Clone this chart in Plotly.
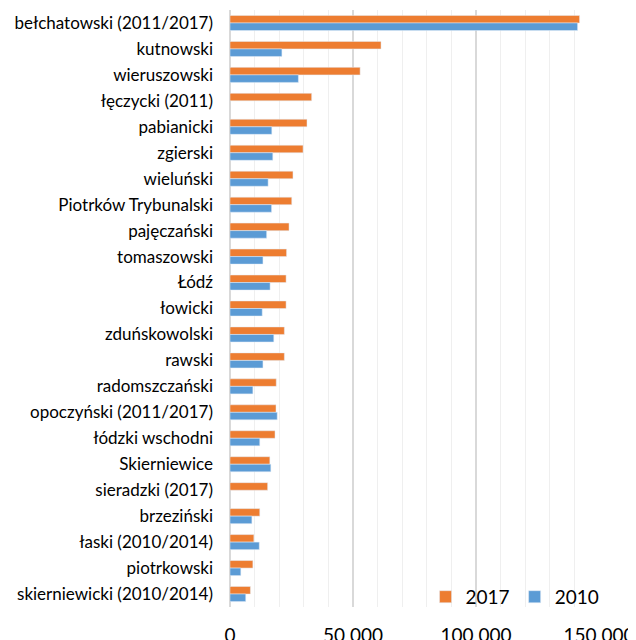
"""Bar chart: values by county, 2010 vs 2017"""
import plotly.graph_objects as go

# Categories, top to bottom
counties = [
    'bełchatowski (2011/2017)', 'kutnowski', 'wieruszowski', 'łęczycki (2011)',
    'pabianicki', 'zgierski', 'wieluński', 'Piotrków Trybunalski',
    'pajęczański', 'tomaszowski', 'Łódź', 'łowicki', 'zduńskowolski',
    'rawski', 'radomszczański', 'opoczyński (2011/2017)', 'łódzki wschodni',
    'Skierniewice', 'sieradzki (2017)', 'brzeziński', 'łaski (2010/2014)',
    'piotrkowski', 'skierniewicki (2010/2014)',
]

values_2017 = [
    142100, 61400, 52900, 33200, 31300, 29700, 25600, 25100, 24000, 23000,
    22800, 22800, 22100, 22100, 18800, 18700, 18300, 16200, 15300, 12100,
    9700, 9300, 8300,
]

values_2010 = [
    141300, 21100, 27800, None, 17000, 17400, 15500, 16900, 14900, 13400,
    16300, 13100, 17800, 13400, 9300, 19200, 12100, 16600, None, 8900,
    11900, 4400, 6400,
]

x_ticks = [0, 50000, 100000, 150000]

ORANGE = '#ED7D31'
BLUE = '#5B9BD5'
FONT = 'Lato'

fig = go.Figure()

# 2017 first so it sits above 2010 on the reversed category axis
fig.add_trace(go.Bar(
    y=counties, x=values_2017, orientation='h', name='2017',
    marker=dict(color=ORANGE)
))
fig.add_trace(go.Bar(
    y=counties, x=values_2010, orientation='h', name='2010',
    marker=dict(color=BLUE)
))

# page body adds an 8 px offset, margins account for it
fig.update_layout(
    width=636, height=640,
    margin=dict(l=222, r=45, t=2, b=41),
    plot_bgcolor='white', paper_bgcolor='white',
    barmode='group', bargap=0.42, bargroupgap=0,
    separators=', ',
    font=dict(family=FONT, color='#000000'),
    legend=dict(
        orientation='h', x=1.015, xanchor='right', y=0.017, yanchor='middle',
        font=dict(size=19), bgcolor='rgba(0,0,0,0)', itemwidth=30
    ),
    xaxis=dict(
        range=[0, 150000], tickvals=x_ticks, tickformat=',d',
        tickfont=dict(size=19), ticklabelstandoff=15, automargin=False,
        showgrid=True, gridcolor='#d9d9d9', gridwidth=1.5,
        minor=dict(dtick=10000, showgrid=True, gridcolor='#efefef', gridwidth=1),
        zeroline=True, zerolinecolor='#d9d9d9', zerolinewidth=1.5,
        showline=False, fixedrange=True
    ),
    yaxis=dict(
        autorange='reversed', tickfont=dict(size=17), automargin=False,
        ticklabelstandoff=16, showgrid=False, showline=False
    ),
)

fig.write_html("out.html")
